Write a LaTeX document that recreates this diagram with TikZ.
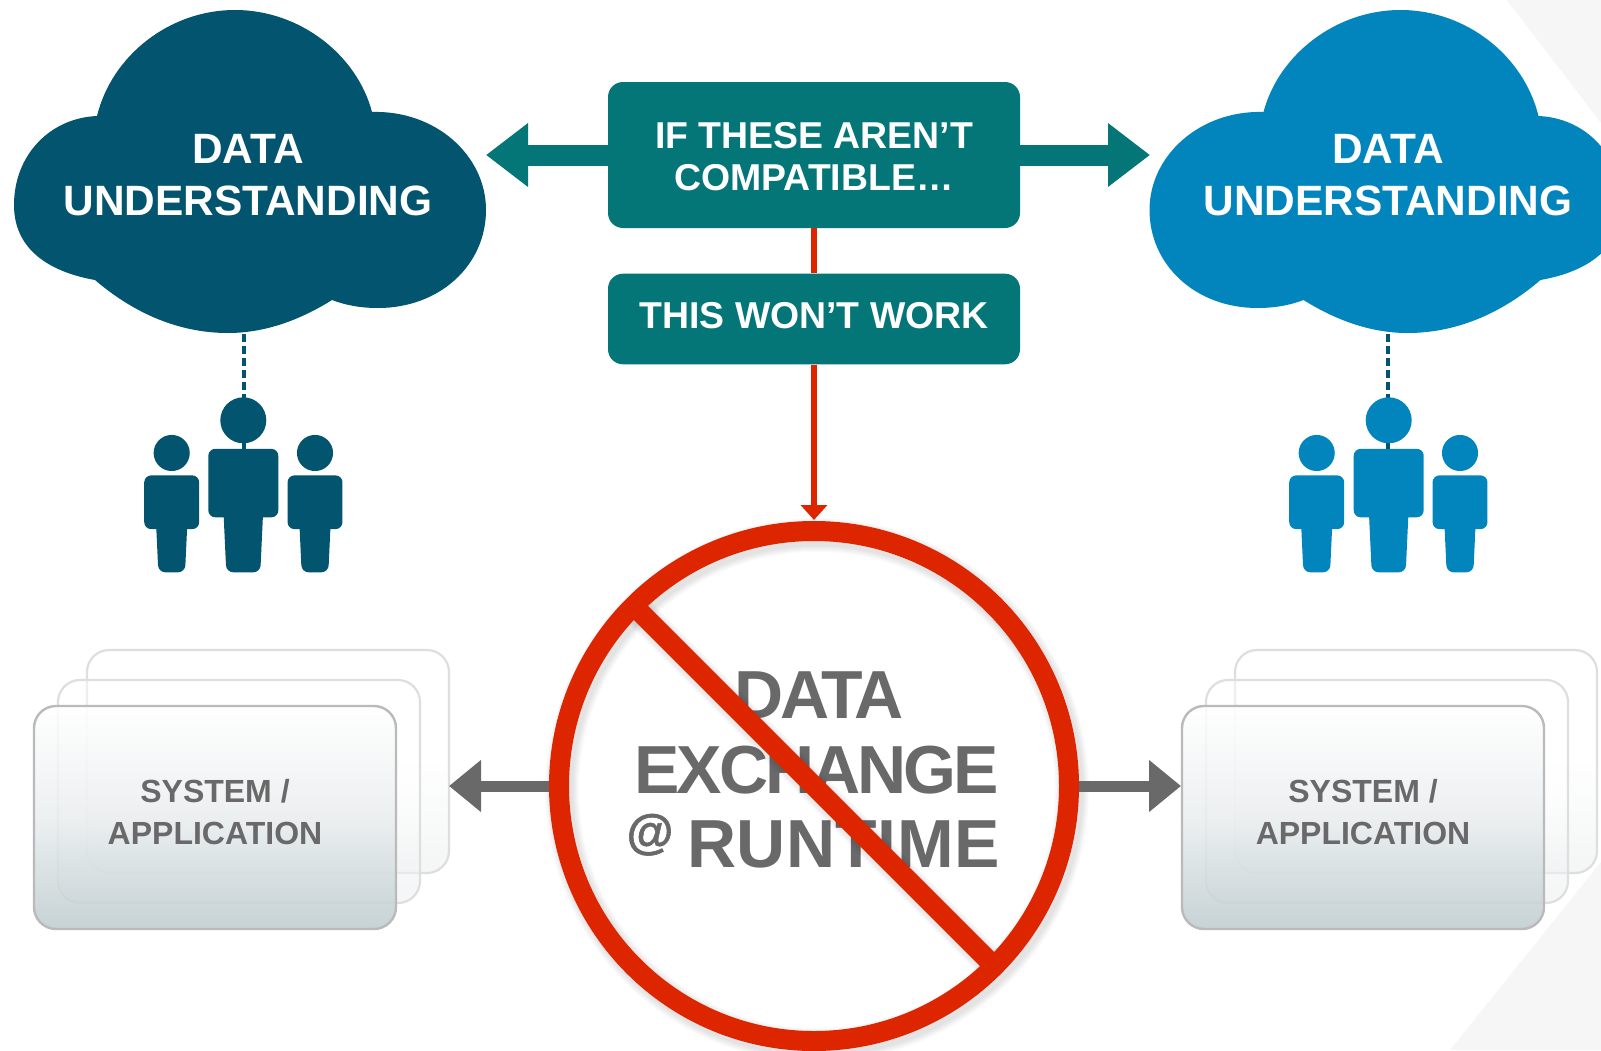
\documentclass[tikz,border=0pt]{standalone}
\usepackage{fontspec}
\setmainfont{Liberation Sans}
\usetikzlibrary{arrows.meta}
\definecolor{cloudl}{HTML}{02546F}
\definecolor{cloudr}{HTML}{0285BC}
\definecolor{tealb}{HTML}{047678}
\definecolor{redno}{HTML}{DD2600}
\definecolor{grayt}{HTML}{696969}
\definecolor{sysbot}{HTML}{BDCBCE}
\definecolor{sysmid}{HTML}{EAEEEF}
\definecolor{bgpoly}{HTML}{F6F6F6}
\newcommand{\cloudshape}{(97,116) .. controls (112,55) and (170,10) .. (235,10) .. controls (300,10) and (357,55) .. (372,112)
    .. controls (435,110) and (486,155) .. (486,210) .. controls (486,265) and (440,308) .. (378,308) .. controls (360,308) and (345,305) .. (332,300)
    .. controls (300,320) and (265,333) .. (228,333) .. controls (175,333) and (130,310) .. (95,280)
    .. controls (50,272) and (14,250) .. (14,205) .. controls (14,155) and (50,118) .. (97,116) -- cycle}
\newcommand{\person}[3]{
    \begin{scope}[shift={(#1,572.3)}, scale=#2]
        \fill[#3] (0,-152) circle (23);
        \fill[#3, rounded corners=3.5pt] (-35,-123.5) -- (35,-123.5) -- (35,-55) -- (-35,-55) -- cycle;
        \fill[#3, rounded corners=3.5pt] (-20.5,-75) -- (20.5,-75) -- (17,0) -- (-17,0) -- cycle;
    \end{scope}
}
\tikzset{
    tealbox/.style={fill=tealb, rounded corners=7.5pt, minimum width=206pt, inner sep=0pt},
    boxtext/.style={text=white, font=\fontsize{18.7}{21}\selectfont\bfseries, align=center, inner sep=0pt},
    cloudtext/.style={text=white, font=\fontsize{21.2}{26}\selectfont\bfseries, align=center, inner sep=0pt},
    tealarrow/.style={draw=tealb, line width=10.5pt, -{Triangle[length=21pt,width=30.5pt]}},
    grayarrow/.style={draw=grayt, line width=5.5pt, -{Triangle[length=16pt,width=25pt]}},
    redline/.style={draw=redno, line width=2.8pt},
    dashline/.style={line width=1.7pt, dash pattern=on 4pt off 2pt},
    sysfront/.style={draw=black!27, line width=1.2pt, rounded corners=11pt, top color=white, bottom color=sysbot, middle color=sysmid, fill opacity=.85, minimum width=181pt, minimum height=111.5pt, inner sep=0pt},
    sysback/.style={draw=black!13, line width=1.1pt, rounded corners=11pt, top color=white, bottom color=sysmid, middle color=white, fill opacity=.5, minimum width=181pt, minimum height=111.5pt, inner sep=0pt},
    syslabel/.style={text=grayt, font=\fontsize{16}{21}\selectfont\bfseries, align=center, inner sep=0pt},
    bigtext/.style={text=grayt, font=\fontsize{34}{34}\selectfont\bfseries, anchor=base, inner sep=0pt},
}
\begin{document}
\begin{tikzpicture}[x=.5pt, y=-.5pt]
    \useasboundingbox (0,0) rectangle (1601,1050);
    \fill[white] (0,0) rectangle (1601,1050);
    \fill[bgpoly] (1507,0) -- (1601,0) -- (1601,123) -- cycle;
    \fill[bgpoly] (1450,1050) -- (1601,862) -- (1601,1050) -- cycle;

    \fill[cloudl] \cloudshape;
    \begin{scope}[shift={(1635.5,0)}, xscale=-1]
        \fill[cloudr] \cloudshape;
    \end{scope}
    \node[cloudtext] (textl) at (248,175) {DATA\\UNDERSTANDING};
    \node[cloudtext] (textr) at (1388,175) {DATA\\UNDERSTANDING};

    \coordinate (cloudlbot) at (244,334);
    \coordinate (bodyl) at (244,449);
    \coordinate (cloudrbot) at (1388,334);
    \coordinate (bodyr) at (1388,449);
    \draw[cloudl, dashline] (cloudlbot) -- (bodyl);
    \draw[cloudl, dashline] (cloudrbot) -- (bodyr);
    \person{243.3}{1}{cloudl}
    \person{171.7}{.785}{cloudl}
    \person{315}{.785}{cloudl}
    \person{1388.7}{1}{cloudr}
    \person{1316.7}{.785}{cloudr}
    \person{1460}{.785}{cloudr}

    \node[tealbox, minimum height=73pt] (ifbox) at (814,155) {};
    \node[boxtext] (iftext) at (814,157) {IF THESE AREN’T\\COMPATIBLE…};
    \node[tealbox, minimum height=45.3pt] (wontbox) at (814,319) {};
    \node[boxtext] (wonttext) at (814,316) {THIS WON’T WORK};
    \coordinate (tiptl) at (486,155);
    \coordinate (tiptr) at (1150,155);
    \draw[tealarrow] (ifbox.west) -- (tiptl);
    \draw[tealarrow] (ifbox.east) -- (tiptr);

    \node[circle, minimum size=255pt, inner sep=0pt] (ring) at (814,786) {};
    \draw[redline] (ifbox.south) -- (wontbox.north);
    \coordinate (ringtop) at (814,520);
    \draw[redline, -{Triangle[length=7.5pt,width=13pt]}] (wontbox.south) -- (ringtop);

    \node[sysback] (syslb) at (268,761.5) {};
    \node[sysback] (syslm) at (239,791.5) {};
    \node[sysfront] (syslf) at (215,817.5) {};
    \node[syslabel] (labell) at (215,812) {SYSTEM /\\APPLICATION};
    \node[sysback] (sysrb) at (1416,761.5) {};
    \node[sysback] (sysrm) at (1387,791.5) {};
    \node[sysfront] (sysrf) at (1363,817.5) {};
    \node[syslabel] (labelr) at (1363,812) {SYSTEM /\\APPLICATION};

    \foreach \w in {11,12,13,14,15,16,17}
        \draw[black, opacity=.016, line width=\w pt] (817,790) circle (255);

    \coordinate (tipgl) at (449,786);
    \coordinate (tipgr) at (1181,786);
    \draw[grayarrow] (ring.west) -- (tipgl);
    \draw[grayarrow] (ring.east) -- (tipgr);

    \node[bigtext] (dataword) at (819,718) {\addfontfeature{LetterSpace=-4.5}DATA};
    \node[bigtext] (exchword) at (816.5,793) {\addfontfeature{LetterSpace=-4.5}EXCHANGE};
    \node[bigtext] (runword) at (843.5,867) {\addfontfeature{LetterSpace=.8}RUNTIME};
    \node[bigtext, font=\fontsize{24}{24}\selectfont\bfseries] (atword) at (650,848) {\addfontfeature{FakeBold=1.2}@};

    \foreach \w in {11,12,13,14,15,16}
        \draw[black, opacity=.016, line width=\w pt] (637,610) -- (997,970);
    \draw[redno, line width=10pt] (ring.135) -- (ring.-45);
    \draw[redno, line width=10pt] (814,786) circle (255);
\end{tikzpicture}
\end{document}
